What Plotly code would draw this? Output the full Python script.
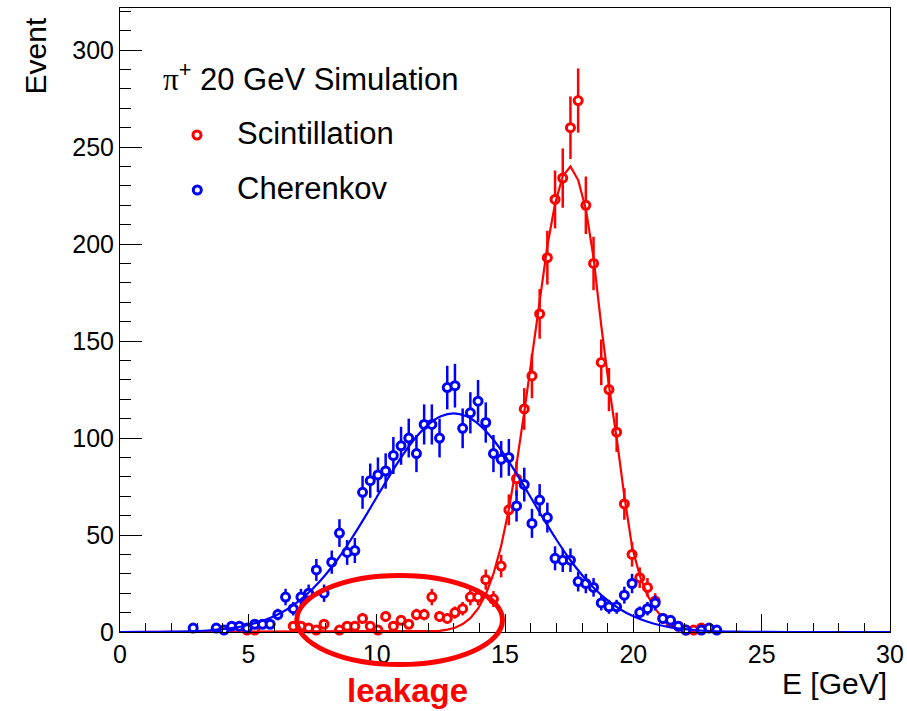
import numpy as np
import plotly.graph_objects as go

# ---------------- data ----------------
# Scintillation histogram (bin centres in GeV, event counts; empty bins omitted)
scint_E = [4.95, 5.25, 6.75, 7.05, 7.35, 7.65, 7.95, 8.55, 8.85, 9.15, 9.45, 9.75,
           10.05, 10.35, 10.65, 10.95, 11.25, 11.55, 11.85, 12.15, 12.45, 12.75,
           13.05, 13.35, 13.65, 13.95, 14.25, 14.55, 14.85, 15.15, 15.45, 15.75,
           16.05, 16.35, 16.65, 16.95, 17.25, 17.55, 17.85, 18.15, 18.45, 18.75,
           19.05, 19.35, 19.65, 19.95, 20.25, 20.55, 20.85, 21.15, 21.45, 21.75,
           22.05, 22.35, 22.65]
scint_N = [1, 1, 3, 3, 2, 1, 4, 1, 3, 3, 7, 3,
           1, 8, 3, 6, 4, 9, 9, 18, 8, 7,
           10, 12, 18, 18, 27, 17, 34, 63, 79, 115,
           132, 164, 193, 223, 234, 260, 274, 220, 190, 139,
           125, 103, 66, 40, 28, 23, 16, 7, 5, 3,
           1, 1, 2]

# Cherenkov histogram
cher_E = [2.85, 3.75, 4.05, 4.35, 4.65, 4.95, 5.25, 5.55, 5.85, 6.15, 6.45, 6.75,
          7.05, 7.35, 7.65, 7.95, 8.25, 8.55, 8.85, 9.15, 9.45, 9.75, 10.05, 10.35,
          10.65, 10.95, 11.25, 11.55, 11.85, 12.15, 12.45, 12.75, 13.05, 13.35,
          13.65, 13.95, 14.25, 14.55, 14.85, 15.15, 15.45, 15.75, 16.05, 16.35,
          16.65, 16.95, 17.25, 17.55, 17.85, 18.15, 18.45, 18.75, 19.05, 19.35,
          19.65, 19.95, 20.25, 20.55, 20.85, 21.15, 21.45, 21.75, 22.05, 22.65,
          22.95, 23.25]
cher_N = [2, 2, 1, 3, 3, 2, 4, 4, 4, 9, 18, 12,
          18, 20, 32, 20, 36, 51, 41, 42, 72, 78, 81, 83,
          91, 96, 100, 92, 107, 107, 100, 126, 127, 105,
          113, 119, 108, 92, 89, 90, 65, 76, 56, 68,
          59, 38, 37, 37, 26, 25, 23, 15, 13, 13,
          19, 25, 10, 12, 15, 7, 6, 3, 1, 1,
          2, 1]

# Fit curves
scint_fit_E = [0.0, 12.15, 12.45, 12.75, 13.05, 13.35, 13.65, 13.95, 14.25, 14.55,
               14.85, 15.15, 15.45, 15.75, 16.05, 16.35, 16.65, 16.95, 17.25,
               17.55, 17.85, 18.15, 18.45, 18.75, 19.05, 19.35, 19.65, 19.95,
               20.25, 20.55, 20.85, 21.15, 21.45, 21.75, 22.05, 22.35, 22.65,
               22.95, 30.0]
scint_fit_N = [0.0, 0.3, 0.6, 1.2, 2.2, 4.1, 7.1, 12.0, 19.3, 29.9,
               44.4, 63.3, 86.5, 113.4, 142.6, 172.0, 199.0, 220.8, 235.0,
               240.0, 233.0, 218.0, 193.0, 158.0, 127.0, 100.0, 70.0, 44.0,
               29.0, 19.0, 12.0, 7.0, 3.5, 1.6, 0.7, 0.3, 0.1,
               0.0, 0.0]

cher_fit_E = [0, 1, 2, 3, 3.5, 4, 4.5, 5, 5.5, 6, 6.5, 7, 7.5, 8, 8.5, 9, 9.5,
              10, 10.5, 11, 11.5, 12, 12.5, 13, 13.5, 14, 14.5, 15, 15.5, 16,
              16.5, 17, 17.5, 18, 18.5, 19, 19.5, 20, 20.5, 21, 21.5, 22, 22.5,
              23, 24, 25, 26, 30]
cher_fit_N = [0.0, 0.05, 0.17, 0.52, 0.88, 1.45, 2.3, 3.6, 5.5, 8.1, 11.6, 16.3,
              22.2, 29.4, 37.9, 47.7, 58.3, 69.5, 80.5, 90.9, 99.9, 106.8, 111.2,
              112.7, 111.2, 106.8, 99.9, 90.9, 80.5, 69.5, 58.3, 47.7, 37.9, 29.4,
              22.2, 16.3, 11.6, 8.1, 5.5, 3.6, 2.3, 1.45, 0.88, 0.52, 0.17, 0.05,
              0.01, 0.0]

x_ticks = [0, 5, 10, 15, 20, 25, 30]
y_ticks = [0, 50, 100, 150, 200, 250, 300]

RED = "#FF0000"
BLUE = "#0000FF"
FONT = "Liberation Sans, Arial, Helvetica, sans-serif"

# ---------------- layout geometry ----------------
W, H = 907, 711
L, R, T, B = 120, 17, 8, 79
PW, PH = W - L - R, H - T - B


def px_x(p):
    return (p - L) / PW


def px_y(p):
    return (T + PH - p) / PH


fig = go.Figure()


def add_hist(E, N, color):
    fig.add_trace(go.Scatter(
        x=E, y=N, mode="markers",
        marker=dict(symbol="circle", size=8, color="white",
                    line=dict(color=color, width=3)),
        error_y=dict(type="data", array=np.sqrt(np.array(N, dtype=float)),
                     visible=True, thickness=2.5, width=0, color=color),
        cliponaxis=False, showlegend=False, hoverinfo="x+y"))


def add_fit(E, N, color, shape):
    fig.add_trace(go.Scatter(
        x=E, y=N, mode="lines", line=dict(color=color, width=2.2, shape=shape),
        showlegend=False, hoverinfo="skip"))


add_hist(scint_E, scint_N, RED)
add_fit(scint_fit_E, scint_fit_N, RED, "linear")
add_hist(cher_E, cher_N, BLUE)
add_fit(cher_fit_E, cher_fit_N, BLUE, "spline")

axis_common = dict(showgrid=False, zeroline=False, showline=True, linecolor="black",
                   linewidth=1, mirror=True, ticks="inside", tickcolor="black",
                   tickwidth=1, automargin=False,
                   tickfont=dict(family=FONT, size=25, color="black"))

fig.update_xaxes(range=[0, 30], tickvals=x_ticks, ticktext=[str(v) for v in x_ticks],
                 ticklen=18,
                 minor=dict(dtick=1, tick0=0, ticks="inside", ticklen=9,
                            tickcolor="black", tickwidth=1, showgrid=False),
                 **axis_common)
fig.update_yaxes(range=[0, 321.7], tickvals=y_ticks, ticktext=[str(v) for v in y_ticks],
                 ticklen=22,
                 minor=dict(dtick=10, tick0=0, ticks="inside", ticklen=11,
                            tickcolor="black", tickwidth=1, showgrid=False),
                 **axis_common)

LEG = 31
annotations = [
    dict(text="Event", textangle=-90, x=px_x(35), y=px_y(16), xanchor="center",
         yanchor="top", font=dict(family=FONT, size=30, color="black")),
    dict(text="E [GeV]", x=px_x(889), y=px_y(683), xanchor="right", yanchor="middle",
         font=dict(family=FONT, size=30, color="black")),
    dict(text="<span style='font-family:Liberation Serif'>π</span><sup>+</sup> 20 GeV Simulation",
         x=px_x(161), y=px_y(77), xanchor="left", yanchor="middle",
         font=dict(family=FONT, size=LEG, color="black")),
    dict(text="Scintillation", x=px_x(235), y=px_y(134), xanchor="left", yanchor="middle",
         font=dict(family=FONT, size=LEG, color="black")),
    dict(text="Cherenkov", x=px_x(235), y=px_y(189), xanchor="left", yanchor="middle",
         font=dict(family=FONT, size=LEG, color="black")),
    dict(text="<b>leakage</b>", x=px_x(407), y=px_y(691), xanchor="center",
         yanchor="middle", font=dict(family=FONT, size=33, color=RED)),
]
for a in annotations:
    a.update(xref="paper", yref="paper", showarrow=False)

shapes = [
    # legend markers
    dict(type="circle", xref="paper", yref="paper",
         x0=px_x(193.0), x1=px_x(201.0), y0=px_y(139.0), y1=px_y(131.0),
         line=dict(color=RED, width=3), fillcolor="white"),
    dict(type="circle", xref="paper", yref="paper",
         x0=px_x(193.3), x1=px_x(201.3), y0=px_y(194.0), y1=px_y(186.0),
         line=dict(color=BLUE, width=3), fillcolor="white"),
    # leakage ellipse
    dict(type="circle", xref="paper", yref="paper",
         x0=px_x(296.8), x1=px_x(502.5), y0=px_y(664.5), y1=px_y(575.5),
         line=dict(color=RED, width=5)),
]

fig.update_layout(width=W, height=H, margin=dict(l=L, r=R, t=T, b=B),
                  paper_bgcolor="white", plot_bgcolor="white",
                  annotations=annotations, shapes=shapes, showlegend=False)

fig.write_html("out.html")
